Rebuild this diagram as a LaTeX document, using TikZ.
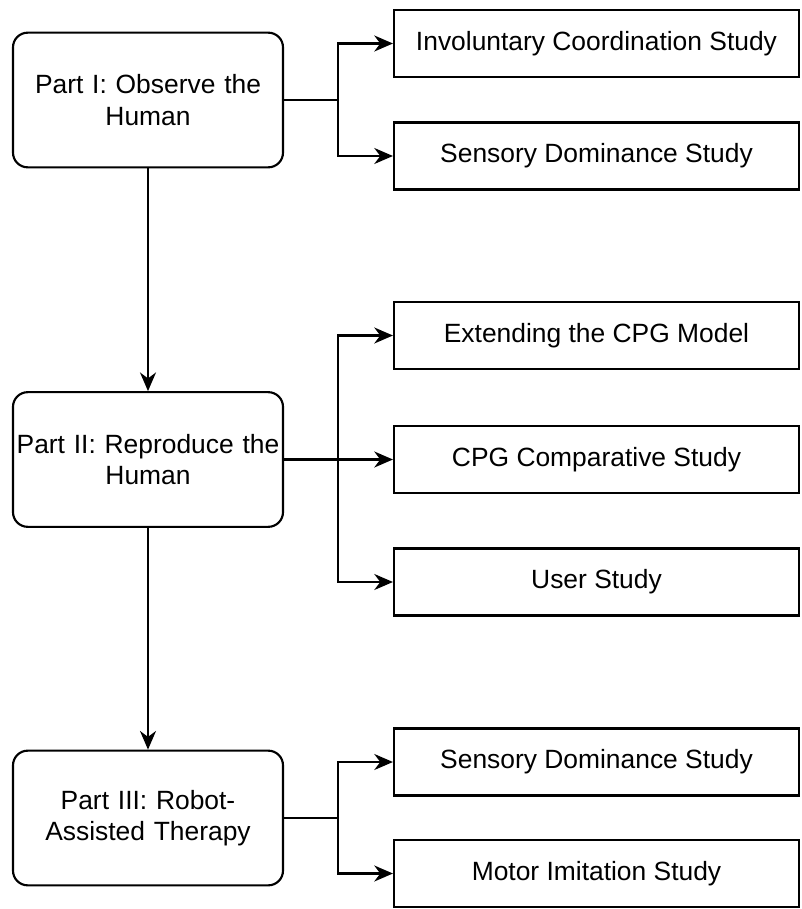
\documentclass[tikz,border=0pt]{standalone}
\usepackage{fontspec}
\setmainfont{Liberation Sans}
\usetikzlibrary{arrows.meta}

\begin{document}
\begin{tikzpicture} [
    x=0.75pt, y=-0.75pt,
    line width=1.6pt,
    every node/.style={font=\fontsize{19.8}{23.5}\selectfont},
    part/.style={rectangle, draw, rounded corners=11pt, minimum width=202.5pt,
      minimum height=101pt, text width=200pt, align=center, inner sep=0pt},
    study/.style={rectangle, draw, minimum width=303.75pt, minimum height=50.25pt},
    link/.style={-{Stealth[length=14pt,width=12pt,inset=4.5pt]}},
    ]
    \useasboundingbox (0,0) rectangle (802,909);
    % Parts
    \node[part] (obs) at (148,100) {Part I: Observe the\\Human};
    \node[part] (rep) at (148,459.5) {Part II: Reproduce the\\Human};
    \node[part] (rat) at (148,818) {Part III: Robot-\\Assisted Therapy};
    % Studies of part I
    \node[study] (ics) at (596.5,43.5) {Involuntary Coordination Study};
    \node[study] (sds) at (596.5,156) {Sensory Dominance Study};
    % Studies of part II
    \node[study] (ext) at (596.5,335.5) {Extending the CPG Model};
    \node[study] (cmp) at (596.5,459.5) {CPG Comparative Study};
    \node[study] (usr) at (596.5,582) {User Study};
    % Studies of part III
    \node[study] (sdt) at (596.5,762) {Sensory Dominance Study};
    \node[study] (mis) at (596.5,873.5) {Motor Imitation Study};
    % Branch points
    \coordinate (brI) at (338,100);
    \coordinate (brII) at (338,459.5);
    \coordinate (brIII) at (338,818);
    \path [link]
    (obs) edge (rep) (rep) edge (rat);
    \draw (obs) -- (brI) (rep) -- (brII) (rat) -- (brIII);
    \draw [link] (brI) |- (ics);
    \draw [link] (brI) |- (sds);
    \draw [link] (brII) |- (ext);
    \draw [link] (brII) -- (cmp);
    \draw [link] (brII) |- (usr);
    \draw [link] (brIII) |- (sdt);
    \draw [link] (brIII) |- (mis);
  \end{tikzpicture}
\end{document}
